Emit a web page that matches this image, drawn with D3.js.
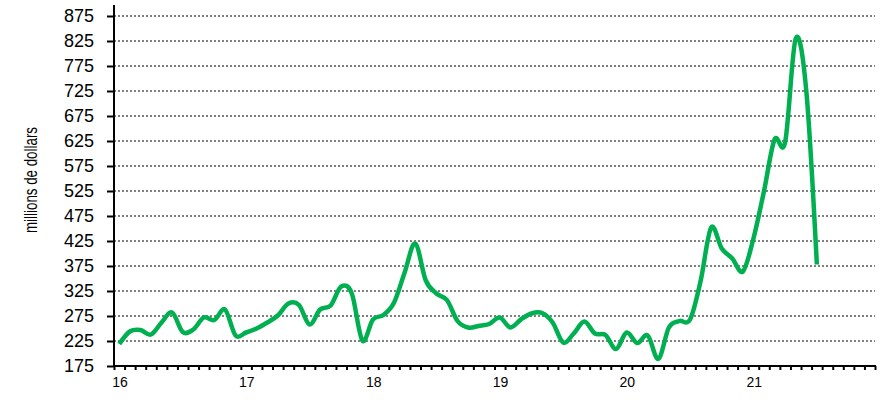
<!DOCTYPE html>
<html>
<head>
<meta charset="utf-8">
<script src="https://cdn.jsdelivr.net/npm/d3@7"></script>
<style>
  html, body { margin: 0; padding: 0; background: #fff; }
  svg { display: block; }
</style>
</head>
<body>
<svg id="chart" width="885" height="404"></svg>
<script>
// ---- data ----
const yearLabels = ["16", "17", "18", "19", "20", "21"];
const yTicks = [175, 225, 275, 325, 375, 425, 475, 525, 575, 625, 675, 725, 775, 825, 875];
const yTitle = "millions de dollars";
// monthly values, Jan 2016 .. Jul 2021 (millions de dollars)
const values = [
  219, 244, 247, 238, 262, 282, 243, 248, 272, 267, 288, 236,
  242, 250, 262, 276, 300, 297, 258, 288, 296, 334, 320, 226,
  268, 277, 302, 362, 420, 346, 320, 307, 265, 252, 255, 259,
  272, 252, 268, 280, 281, 262, 222, 240, 264, 240, 237, 209,
  242, 221, 236, 189, 252, 265, 268, 345, 452, 410, 390, 364,
  430, 525, 628, 623, 830, 725, 378
];
const startYear = 16, endYear = 22;

// ---- layout ----
const svg = d3.select("#chart");
const mLeft = 114, mRight = 875, mTop = 16, mBottom = 366;

const x = d3.scaleLinear().domain([startYear, endYear]).range([mLeft, mRight]);
const y = d3.scaleLinear().domain([175, 875]).range([mBottom, mTop]);

const months = d3.range((endYear - startYear) * 12 + 1);
const data = values.map((v, i) => ({ t: startYear + (i + 0.5) / 12, v }));

// gridlines
svg.append("g").selectAll("line")
  .data(yTicks.filter(d => d > 175))
  .join("line")
  .attr("x1", mLeft).attr("x2", mRight)
  .attr("y1", d => y(d)).attr("y2", d => y(d))
  .attr("stroke", "#000").attr("stroke-width", 1)
  .attr("stroke-dasharray", "2,2");

// y axis
const yAxis = d3.axisLeft(y).tickValues(yTicks).tickSize(7).tickPadding(13);
const gy = svg.append("g").attr("transform", `translate(${mLeft},0)`).call(yAxis);
gy.select(".domain").remove();
gy.selectAll(".tick line").attr("stroke", "#000").attr("stroke-width", 2);
gy.selectAll(".tick text")
  .attr("font-family", "'Liberation Sans', Arial, sans-serif")
  .attr("font-size", 18).attr("fill", "#000");
svg.append("line")
  .attr("x1", mLeft).attr("x2", mLeft)
  .attr("y1", 5).attr("y2", mBottom + 1)
  .attr("stroke", "#000").attr("stroke-width", 2);

// x axis
const xAxis = d3.axisBottom(x)
  .tickValues(months.map(m => startYear + m / 12))
  .tickSize(4).tickFormat("");
const gx = svg.append("g").attr("transform", `translate(0,${mBottom})`).call(xAxis);
gx.select(".domain").remove();
gx.selectAll(".tick line").attr("stroke", "#000").attr("stroke-width", 2);
svg.append("line")
  .attr("x1", mLeft - 1).attr("x2", mRight + 1)
  .attr("y1", mBottom).attr("y2", mBottom)
  .attr("stroke", "#000").attr("stroke-width", 2);

svg.append("g").selectAll("text")
  .data(yearLabels)
  .join("text")
  .attr("x", d => x(+d) + 6)
  .attr("y", 387)
  .attr("text-anchor", "middle")
  .attr("font-family", "'Liberation Sans', Arial, sans-serif")
  .attr("font-size", 14)
  .attr("fill", "#000")
  .text(d => d);

// y title
svg.append("text")
  .attr("transform", "translate(37,180) rotate(-90)")
  .attr("text-anchor", "middle")
  .attr("font-family", "'Liberation Sans Narrow', 'Arial Narrow', 'Liberation Sans', sans-serif")
  .attr("font-size", 19)
  .attr("textLength", 106)
  .attr("lengthAdjust", "spacingAndGlyphs")
  .attr("fill", "#000")
  .text(yTitle);

// line
const line = d3.line()
  .x(d => x(d.t))
  .y(d => y(d.v))
  .curve(d3.curveCardinal.tension(0));

svg.append("path")
  .datum(data)
  .attr("d", line)
  .attr("fill", "none")
  .attr("stroke", "#00B050")
  .attr("stroke-width", 4.5)
  .attr("stroke-linejoin", "round")
  .attr("stroke-linecap", "butt");
</script>
</body>
</html>
